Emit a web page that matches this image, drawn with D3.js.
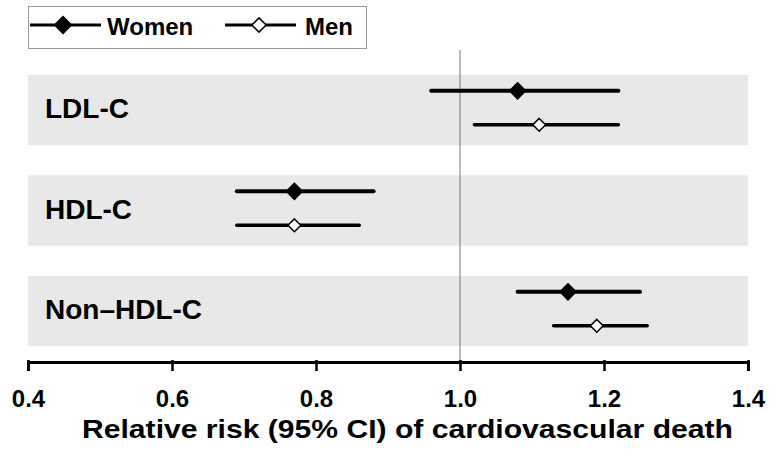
<!DOCTYPE html>
<html lang="en">
<head>
  <meta charset="UTF-8">
  <title>Relative risk forest plot</title>
  <style>
    body { margin: 0; background: #fff; }
    svg { display: block; font-family: "Liberation Sans", Arial, sans-serif; font-weight: bold; }
  </style>
  <script src="https://d3js.org/d3.v7.min.js"></script>
</head>
<body>
<script>
  var categories = ["LDL-C", "HDL-C", "Non\u2013HDL-C"];
  var series = ["Women", "Men"];
  var estimates = { Women: [1.08, 0.77, 1.15], Men: [1.11, 0.77, 1.19] };
  var lower = { Women: [0.96, 0.69, 1.08], Men: [1.02, 0.69, 1.13] };
  var upper = { Women: [1.22, 0.88, 1.25], Men: [1.22, 0.86, 1.26] };
  var xTicks = [0.4, 0.6, 0.8, 1.0, 1.2, 1.4];

  var width = 773, height = 454;
  var svg = d3.select("body").append("svg")
    .attr("width", width)
    .attr("height", height);

  var x = d3.scaleLinear().domain([0.4, 1.4]).range([28, 748]);
  var y = d3.scaleBand().domain(categories).range([59.75, 361.25])
    .paddingInner(0.3).paddingOuter(0.15);
  var inner = d3.scalePoint().domain(series).range([16, 50]);
  var axisY = 362;

  // grey bands
  svg.selectAll("rect.band").data(categories).enter().append("rect")
    .attr("class", "band")
    .attr("x", x(0.4)).attr("width", x(1.4) - x(0.4))
    .attr("y", function (d) { return y(d); })
    .attr("height", y.bandwidth())
    .attr("fill", "#e8e8e8");

  // reference line at 1.0
  svg.append("line")
    .attr("x1", x(1)).attr("x2", x(1))
    .attr("y1", 50).attr("y2", axisY)
    .attr("stroke", "#777").attr("stroke-width", 1);

  // category labels
  svg.selectAll("text.cat").data(categories).enter().append("text")
    .attr("class", "cat")
    .attr("x", 45)
    .attr("y", function (d) { return y(d) + y.bandwidth() / 2 + 8; })
    .attr("font-size", 28)
    .text(function (d) { return d; });

  var diamond = d3.symbol().type(d3.symbolDiamond2);
  var symSize = { Women: 165, Men: 105 };

  series.forEach(function (s) {
    var rows = categories.map(function (c, i) {
      return { cat: c, est: estimates[s][i], lo: lower[s][i], hi: upper[s][i] };
    });
    var g = svg.append("g");
    g.selectAll("line").data(rows).enter().append("line")
      .attr("x1", function (d) { return x(d.lo); })
      .attr("x2", function (d) { return x(d.hi); })
      .attr("y1", function (d) { return y(d.cat) + inner(s); })
      .attr("y2", function (d) { return y(d.cat) + inner(s); })
      .attr("stroke", "#000").attr("stroke-width", s === "Women" ? 4 : 3.5)
      .attr("stroke-linecap", "round");
    g.selectAll("path").data(rows).enter().append("path")
      .attr("transform", function (d) { return "translate(" + x(d.est) + "," + (y(d.cat) + inner(s)) + ")"; })
      .attr("d", diamond.size(symSize[s])())
      .attr("fill", s === "Women" ? "#000" : "#fff")
      .attr("stroke", "#000").attr("stroke-width", 1.5);
  });

  // x axis
  var xAxis = d3.axisBottom(x).tickValues(xTicks).tickFormat(d3.format(".1f"))
    .tickSizeInner(9).tickSizeOuter(9).tickPadding(19);
  var ax = svg.append("g").attr("transform", "translate(0," + axisY + ")").call(xAxis);
  ax.select(".domain").attr("stroke-width", 3);
  ax.selectAll(".tick line").attr("stroke-width", 2.5).attr("y1", -2);
  ax.selectAll(".tick text").attr("font-size", 24).attr("font-weight", "bold")
    .attr("font-family", "Liberation Sans, Arial, sans-serif").attr("fill", "#000");

  svg.append("text")
    .attr("x", 82).attr("y", 438)
    .attr("font-size", 25)
    .attr("textLength", 651).attr("lengthAdjust", "spacingAndGlyphs")
    .text("Relative risk (95% CI) of cardiovascular death");

  // legend
  var leg = svg.append("g");
  leg.append("rect").attr("x", 28.5).attr("y", 6.5).attr("width", 338).attr("height", 42)
    .attr("fill", "#fff").attr("stroke", "#999");
  var legX = { Women: 30, Men: 225 };
  series.forEach(function (s) {
    var lx = legX[s];
    leg.append("line").attr("x1", lx).attr("x2", lx + 71).attr("y1", 25).attr("y2", 25)
      .attr("stroke", "#000").attr("stroke-width", 3);
    leg.append("path").attr("transform", "translate(" + (lx + (s === "Women" ? 33 : 34)) + ",25)")
      .attr("d", diamond.size(s === "Women" ? 180 : 130)())
      .attr("fill", s === "Women" ? "#000" : "#fff")
      .attr("stroke", "#000").attr("stroke-width", 1.5);
    leg.append("text").attr("x", s === "Women" ? 107 : 305).attr("y", 35)
      .attr("font-size", 24).text(s);
  });
</script>
</body>
</html>
